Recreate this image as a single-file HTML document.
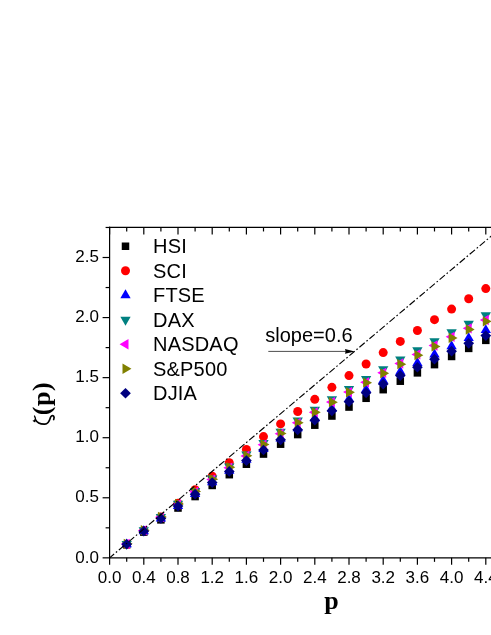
<!DOCTYPE html>
<html><head><meta charset="utf-8"><title>chart</title>
<style>html,body{margin:0;padding:0;background:#fff;overflow:hidden}svg{display:block;will-change:transform}</style>
</head><body>
<svg width="491" height="635" viewBox="0 0 491 635">
<rect width="491" height="635" fill="#fff"/>
<g>
<rect x="122.95" y="541.02" width="7.50" height="7.50" fill="#000000"/>
<rect x="140.05" y="528.37" width="7.50" height="7.50" fill="#000000"/>
<rect x="157.15" y="516.13" width="7.50" height="7.50" fill="#000000"/>
<rect x="174.25" y="504.29" width="7.50" height="7.50" fill="#000000"/>
<rect x="191.35" y="492.82" width="7.50" height="7.50" fill="#000000"/>
<rect x="208.45" y="481.71" width="7.50" height="7.50" fill="#000000"/>
<rect x="225.55" y="470.94" width="7.50" height="7.50" fill="#000000"/>
<rect x="242.65" y="460.48" width="7.50" height="7.50" fill="#000000"/>
<rect x="259.75" y="450.32" width="7.50" height="7.50" fill="#000000"/>
<rect x="276.85" y="440.44" width="7.50" height="7.50" fill="#000000"/>
<rect x="293.95" y="430.82" width="7.50" height="7.50" fill="#000000"/>
<rect x="311.05" y="421.44" width="7.50" height="7.50" fill="#000000"/>
<rect x="328.15" y="412.28" width="7.50" height="7.50" fill="#000000"/>
<rect x="345.25" y="403.32" width="7.50" height="7.50" fill="#000000"/>
<rect x="362.35" y="394.54" width="7.50" height="7.50" fill="#000000"/>
<rect x="379.45" y="385.93" width="7.50" height="7.50" fill="#000000"/>
<rect x="396.55" y="377.46" width="7.50" height="7.50" fill="#000000"/>
<rect x="413.65" y="369.12" width="7.50" height="7.50" fill="#000000"/>
<rect x="430.75" y="360.88" width="7.50" height="7.50" fill="#000000"/>
<rect x="447.85" y="352.73" width="7.50" height="7.50" fill="#000000"/>
<rect x="464.95" y="344.65" width="7.50" height="7.50" fill="#000000"/>
<rect x="482.05" y="336.61" width="7.50" height="7.50" fill="#000000"/>
<rect x="499.15" y="328.61" width="7.50" height="7.50" fill="#000000"/>
</g>
<g>
<circle cx="126.70" cy="544.27" r="4.50" fill="#ff0000"/>
<circle cx="143.80" cy="530.64" r="4.50" fill="#ff0000"/>
<circle cx="160.90" cy="516.99" r="4.50" fill="#ff0000"/>
<circle cx="178.00" cy="503.35" r="4.50" fill="#ff0000"/>
<circle cx="195.10" cy="489.74" r="4.50" fill="#ff0000"/>
<circle cx="212.20" cy="476.19" r="4.50" fill="#ff0000"/>
<circle cx="229.30" cy="462.76" r="4.50" fill="#ff0000"/>
<circle cx="246.40" cy="449.52" r="4.50" fill="#ff0000"/>
<circle cx="263.50" cy="436.57" r="4.50" fill="#ff0000"/>
<circle cx="280.60" cy="423.92" r="4.50" fill="#ff0000"/>
<circle cx="297.70" cy="411.51" r="4.50" fill="#ff0000"/>
<circle cx="314.80" cy="399.32" r="4.50" fill="#ff0000"/>
<circle cx="331.90" cy="387.34" r="4.50" fill="#ff0000"/>
<circle cx="349.00" cy="375.57" r="4.50" fill="#ff0000"/>
<circle cx="366.10" cy="363.99" r="4.50" fill="#ff0000"/>
<circle cx="383.20" cy="352.61" r="4.50" fill="#ff0000"/>
<circle cx="400.30" cy="341.43" r="4.50" fill="#ff0000"/>
<circle cx="417.40" cy="330.45" r="4.50" fill="#ff0000"/>
<circle cx="434.50" cy="319.67" r="4.50" fill="#ff0000"/>
<circle cx="451.60" cy="309.09" r="4.50" fill="#ff0000"/>
<circle cx="468.70" cy="298.71" r="4.50" fill="#ff0000"/>
<circle cx="485.80" cy="288.56" r="4.50" fill="#ff0000"/>
<circle cx="502.90" cy="278.63" r="4.50" fill="#ff0000"/>
</g>
<g>
<polygon points="126.70,538.41 121.55,547.33 131.85,547.33" fill="#0000ff"/>
<polygon points="143.80,525.30 138.65,534.22 148.95,534.22" fill="#0000ff"/>
<polygon points="160.90,512.54 155.75,521.46 166.05,521.46" fill="#0000ff"/>
<polygon points="178.00,500.14 172.85,509.06 183.15,509.06" fill="#0000ff"/>
<polygon points="195.10,488.08 189.95,497.00 200.25,497.00" fill="#0000ff"/>
<polygon points="212.20,476.35 207.05,485.27 217.35,485.27" fill="#0000ff"/>
<polygon points="229.30,464.94 224.15,473.86 234.45,473.86" fill="#0000ff"/>
<polygon points="246.40,453.83 241.25,462.75 251.55,462.75" fill="#0000ff"/>
<polygon points="263.50,443.02 258.35,451.94 268.65,451.94" fill="#0000ff"/>
<polygon points="280.60,432.49 275.45,441.41 285.75,441.41" fill="#0000ff"/>
<polygon points="297.70,422.23 292.55,431.15 302.85,431.15" fill="#0000ff"/>
<polygon points="314.80,412.24 309.65,421.16 319.95,421.16" fill="#0000ff"/>
<polygon points="331.90,402.49 326.75,411.41 337.05,411.41" fill="#0000ff"/>
<polygon points="349.00,392.98 343.85,401.90 354.15,401.90" fill="#0000ff"/>
<polygon points="366.10,383.70 360.95,392.62 371.25,392.62" fill="#0000ff"/>
<polygon points="383.20,374.64 378.05,383.56 388.35,383.56" fill="#0000ff"/>
<polygon points="400.30,365.78 395.15,374.70 405.45,374.70" fill="#0000ff"/>
<polygon points="417.40,357.11 412.25,366.03 422.55,366.03" fill="#0000ff"/>
<polygon points="434.50,348.62 429.35,357.54 439.65,357.54" fill="#0000ff"/>
<polygon points="451.60,340.30 446.45,349.22 456.75,349.22" fill="#0000ff"/>
<polygon points="468.70,332.14 463.55,341.06 473.85,341.06" fill="#0000ff"/>
<polygon points="485.80,324.13 480.65,333.05 490.95,333.05" fill="#0000ff"/>
<polygon points="502.90,316.26 497.75,325.18 508.05,325.18" fill="#0000ff"/>
</g>
<g>
<polygon points="126.70,549.82 121.55,540.90 131.85,540.90" fill="#008080"/>
<polygon points="143.80,536.16 138.65,527.24 148.95,527.24" fill="#008080"/>
<polygon points="160.90,522.80 155.75,513.88 166.05,513.88" fill="#008080"/>
<polygon points="178.00,509.75 172.85,500.83 183.15,500.83" fill="#008080"/>
<polygon points="195.10,497.00 189.95,488.08 200.25,488.08" fill="#008080"/>
<polygon points="212.20,484.54 207.05,475.62 217.35,475.62" fill="#008080"/>
<polygon points="229.30,472.37 224.15,463.45 234.45,463.45" fill="#008080"/>
<polygon points="246.40,460.49 241.25,451.57 251.55,451.57" fill="#008080"/>
<polygon points="263.50,448.88 258.35,439.96 268.65,439.96" fill="#008080"/>
<polygon points="280.60,437.55 275.45,428.63 285.75,428.63" fill="#008080"/>
<polygon points="297.70,426.49 292.55,417.57 302.85,417.57" fill="#008080"/>
<polygon points="314.80,415.70 309.65,406.78 319.95,406.78" fill="#008080"/>
<polygon points="331.90,405.16 326.75,396.24 337.05,396.24" fill="#008080"/>
<polygon points="349.00,394.88 343.85,385.96 354.15,385.96" fill="#008080"/>
<polygon points="366.10,384.84 360.95,375.92 371.25,375.92" fill="#008080"/>
<polygon points="383.20,375.06 378.05,366.14 388.35,366.14" fill="#008080"/>
<polygon points="400.30,365.51 395.15,356.59 405.45,356.59" fill="#008080"/>
<polygon points="417.40,356.20 412.25,347.28 422.55,347.28" fill="#008080"/>
<polygon points="434.50,347.12 429.35,338.20 439.65,338.20" fill="#008080"/>
<polygon points="451.60,338.26 446.45,329.34 456.75,329.34" fill="#008080"/>
<polygon points="468.70,329.63 463.55,320.71 473.85,320.71" fill="#008080"/>
<polygon points="485.80,321.21 480.65,312.29 490.95,312.29" fill="#008080"/>
<polygon points="502.90,313.00 497.75,304.08 508.05,304.08" fill="#008080"/>
</g>
<g>
<polygon points="120.75,543.95 129.67,538.80 129.67,549.10" fill="#ff00ff"/>
<polygon points="137.85,530.40 146.77,525.25 146.77,535.55" fill="#ff00ff"/>
<polygon points="154.95,517.20 163.87,512.05 163.87,522.35" fill="#ff00ff"/>
<polygon points="172.05,504.33 180.97,499.18 180.97,509.48" fill="#ff00ff"/>
<polygon points="189.15,491.78 198.07,486.63 198.07,496.93" fill="#ff00ff"/>
<polygon points="206.25,479.55 215.17,474.40 215.17,484.70" fill="#ff00ff"/>
<polygon points="223.35,467.63 232.27,462.48 232.27,472.78" fill="#ff00ff"/>
<polygon points="240.45,456.01 249.37,450.86 249.37,461.16" fill="#ff00ff"/>
<polygon points="257.55,444.68 266.47,439.53 266.47,449.83" fill="#ff00ff"/>
<polygon points="274.65,433.63 283.57,428.48 283.57,438.78" fill="#ff00ff"/>
<polygon points="291.75,422.86 300.67,417.71 300.67,428.01" fill="#ff00ff"/>
<polygon points="308.85,412.35 317.77,407.20 317.77,417.50" fill="#ff00ff"/>
<polygon points="325.95,402.10 334.87,396.95 334.87,407.25" fill="#ff00ff"/>
<polygon points="343.05,392.10 351.97,386.95 351.97,397.25" fill="#ff00ff"/>
<polygon points="360.15,382.34 369.07,377.19 369.07,387.49" fill="#ff00ff"/>
<polygon points="377.25,372.80 386.17,367.65 386.17,377.95" fill="#ff00ff"/>
<polygon points="394.35,363.49 403.27,358.34 403.27,368.64" fill="#ff00ff"/>
<polygon points="411.45,354.40 420.37,349.25 420.37,359.55" fill="#ff00ff"/>
<polygon points="428.55,345.51 437.47,340.36 437.47,350.66" fill="#ff00ff"/>
<polygon points="445.65,336.82 454.57,331.67 454.57,341.97" fill="#ff00ff"/>
<polygon points="462.75,328.31 471.67,323.16 471.67,333.46" fill="#ff00ff"/>
<polygon points="479.85,319.99 488.77,314.84 488.77,325.14" fill="#ff00ff"/>
<polygon points="496.95,311.83 505.87,306.68 505.87,316.98" fill="#ff00ff"/>
</g>
<g>
<polygon points="132.65,543.82 123.73,538.67 123.73,548.97" fill="#808000"/>
<polygon points="149.75,530.17 140.83,525.02 140.83,535.32" fill="#808000"/>
<polygon points="166.85,516.89 157.93,511.74 157.93,522.04" fill="#808000"/>
<polygon points="183.95,503.97 175.03,498.82 175.03,509.12" fill="#808000"/>
<polygon points="201.05,491.40 192.13,486.25 192.13,496.55" fill="#808000"/>
<polygon points="218.15,479.17 209.23,474.02 209.23,484.32" fill="#808000"/>
<polygon points="235.25,467.27 226.33,462.12 226.33,472.42" fill="#808000"/>
<polygon points="252.35,455.69 243.43,450.54 243.43,460.84" fill="#808000"/>
<polygon points="269.45,444.42 260.53,439.27 260.53,449.57" fill="#808000"/>
<polygon points="286.55,433.44 277.63,428.29 277.63,438.59" fill="#808000"/>
<polygon points="303.65,422.76 294.73,417.61 294.73,427.91" fill="#808000"/>
<polygon points="320.75,412.35 311.83,407.20 311.83,417.50" fill="#808000"/>
<polygon points="337.85,402.21 328.93,397.06 328.93,407.36" fill="#808000"/>
<polygon points="354.95,392.33 346.03,387.18 346.03,397.48" fill="#808000"/>
<polygon points="372.05,382.70 363.13,377.55 363.13,387.85" fill="#808000"/>
<polygon points="389.15,373.30 380.23,368.15 380.23,378.45" fill="#808000"/>
<polygon points="406.25,364.13 397.33,358.98 397.33,369.28" fill="#808000"/>
<polygon points="423.35,355.18 414.43,350.03 414.43,360.33" fill="#808000"/>
<polygon points="440.45,346.43 431.53,341.28 431.53,351.58" fill="#808000"/>
<polygon points="457.55,337.88 448.63,332.73 448.63,343.03" fill="#808000"/>
<polygon points="474.65,329.51 465.73,324.36 465.73,334.66" fill="#808000"/>
<polygon points="491.75,321.32 482.83,316.17 482.83,326.47" fill="#808000"/>
<polygon points="508.85,313.29 499.93,308.14 499.93,318.44" fill="#808000"/>
</g>
<g>
<polygon points="126.70,538.92 132.05,544.27 126.70,549.62 121.35,544.27" fill="#000080"/>
<polygon points="143.80,525.78 149.15,531.13 143.80,536.48 138.45,531.13" fill="#000080"/>
<polygon points="160.90,513.06 166.25,518.41 160.90,523.76 155.55,518.41" fill="#000080"/>
<polygon points="178.00,500.74 183.35,506.09 178.00,511.44 172.65,506.09" fill="#000080"/>
<polygon points="195.10,488.82 200.45,494.17 195.10,499.52 189.75,494.17" fill="#000080"/>
<polygon points="212.20,477.26 217.55,482.61 212.20,487.96 206.85,482.61" fill="#000080"/>
<polygon points="229.30,466.06 234.65,471.41 229.30,476.76 223.95,471.41" fill="#000080"/>
<polygon points="246.40,455.20 251.75,460.55 246.40,465.90 241.05,460.55" fill="#000080"/>
<polygon points="263.50,444.67 268.85,450.02 263.50,455.37 258.15,450.02" fill="#000080"/>
<polygon points="280.60,434.45 285.95,439.80 280.60,445.15 275.25,439.80" fill="#000080"/>
<polygon points="297.70,424.52 303.05,429.87 297.70,435.22 292.35,429.87" fill="#000080"/>
<polygon points="314.80,414.87 320.15,420.22 314.80,425.57 309.45,420.22" fill="#000080"/>
<polygon points="331.90,405.48 337.25,410.83 331.90,416.18 326.55,410.83" fill="#000080"/>
<polygon points="349.00,396.34 354.35,401.69 349.00,407.04 343.65,401.69" fill="#000080"/>
<polygon points="366.10,387.43 371.45,392.78 366.10,398.13 360.75,392.78" fill="#000080"/>
<polygon points="383.20,378.73 388.55,384.08 383.20,389.43 377.85,384.08" fill="#000080"/>
<polygon points="400.30,370.24 405.65,375.59 400.30,380.94 394.95,375.59" fill="#000080"/>
<polygon points="417.40,361.92 422.75,367.27 417.40,372.62 412.05,367.27" fill="#000080"/>
<polygon points="434.50,353.78 439.85,359.13 434.50,364.48 429.15,359.13" fill="#000080"/>
<polygon points="451.60,345.79 456.95,351.14 451.60,356.49 446.25,351.14" fill="#000080"/>
<polygon points="468.70,337.94 474.05,343.29 468.70,348.64 463.35,343.29" fill="#000080"/>
<polygon points="485.80,330.21 491.15,335.56 485.80,340.91 480.45,335.56" fill="#000080"/>
<polygon points="502.90,322.58 508.25,327.93 502.90,333.28 497.55,327.93" fill="#000080"/>
</g>
<line x1="109.60" y1="557.85" x2="500.00" y2="228.71" stroke="#000" stroke-width="1.15" stroke-dasharray="6.9 2.3 1.6 2.31" stroke-dashoffset="0.98"/>
<g stroke="#000" stroke-width="1.2" fill="none">
<line x1="109.60" y1="226.87" x2="109.60" y2="558.45"/>
<line x1="109.00" y1="557.85" x2="496" y2="557.85"/>
<line x1="109.00" y1="227.47" x2="496" y2="227.47"/>
<line x1="109.60" y1="557.85" x2="109.60" y2="564.85"/>
<line x1="109.60" y1="227.47" x2="109.60" y2="234.47"/>
<line x1="126.70" y1="557.85" x2="126.70" y2="561.85"/>
<line x1="126.70" y1="227.47" x2="126.70" y2="231.47"/>
<line x1="143.80" y1="557.85" x2="143.80" y2="564.85"/>
<line x1="143.80" y1="227.47" x2="143.80" y2="234.47"/>
<line x1="160.90" y1="557.85" x2="160.90" y2="561.85"/>
<line x1="160.90" y1="227.47" x2="160.90" y2="231.47"/>
<line x1="178.00" y1="557.85" x2="178.00" y2="564.85"/>
<line x1="178.00" y1="227.47" x2="178.00" y2="234.47"/>
<line x1="195.10" y1="557.85" x2="195.10" y2="561.85"/>
<line x1="195.10" y1="227.47" x2="195.10" y2="231.47"/>
<line x1="212.20" y1="557.85" x2="212.20" y2="564.85"/>
<line x1="212.20" y1="227.47" x2="212.20" y2="234.47"/>
<line x1="229.30" y1="557.85" x2="229.30" y2="561.85"/>
<line x1="229.30" y1="227.47" x2="229.30" y2="231.47"/>
<line x1="246.40" y1="557.85" x2="246.40" y2="564.85"/>
<line x1="246.40" y1="227.47" x2="246.40" y2="234.47"/>
<line x1="263.50" y1="557.85" x2="263.50" y2="561.85"/>
<line x1="263.50" y1="227.47" x2="263.50" y2="231.47"/>
<line x1="280.60" y1="557.85" x2="280.60" y2="564.85"/>
<line x1="280.60" y1="227.47" x2="280.60" y2="234.47"/>
<line x1="297.70" y1="557.85" x2="297.70" y2="561.85"/>
<line x1="297.70" y1="227.47" x2="297.70" y2="231.47"/>
<line x1="314.80" y1="557.85" x2="314.80" y2="564.85"/>
<line x1="314.80" y1="227.47" x2="314.80" y2="234.47"/>
<line x1="331.90" y1="557.85" x2="331.90" y2="561.85"/>
<line x1="331.90" y1="227.47" x2="331.90" y2="231.47"/>
<line x1="349.00" y1="557.85" x2="349.00" y2="564.85"/>
<line x1="349.00" y1="227.47" x2="349.00" y2="234.47"/>
<line x1="366.10" y1="557.85" x2="366.10" y2="561.85"/>
<line x1="366.10" y1="227.47" x2="366.10" y2="231.47"/>
<line x1="383.20" y1="557.85" x2="383.20" y2="564.85"/>
<line x1="383.20" y1="227.47" x2="383.20" y2="234.47"/>
<line x1="400.30" y1="557.85" x2="400.30" y2="561.85"/>
<line x1="400.30" y1="227.47" x2="400.30" y2="231.47"/>
<line x1="417.40" y1="557.85" x2="417.40" y2="564.85"/>
<line x1="417.40" y1="227.47" x2="417.40" y2="234.47"/>
<line x1="434.50" y1="557.85" x2="434.50" y2="561.85"/>
<line x1="434.50" y1="227.47" x2="434.50" y2="231.47"/>
<line x1="451.60" y1="557.85" x2="451.60" y2="564.85"/>
<line x1="451.60" y1="227.47" x2="451.60" y2="234.47"/>
<line x1="468.70" y1="557.85" x2="468.70" y2="561.85"/>
<line x1="468.70" y1="227.47" x2="468.70" y2="231.47"/>
<line x1="485.80" y1="557.85" x2="485.80" y2="564.85"/>
<line x1="485.80" y1="227.47" x2="485.80" y2="234.47"/>
<line x1="502.90" y1="557.85" x2="502.90" y2="561.85"/>
<line x1="502.90" y1="227.47" x2="502.90" y2="231.47"/>
<line x1="102.60" y1="557.85" x2="109.60" y2="557.85"/>
<line x1="105.60" y1="527.82" x2="109.60" y2="527.82"/>
<line x1="102.60" y1="497.78" x2="109.60" y2="497.78"/>
<line x1="105.60" y1="467.75" x2="109.60" y2="467.75"/>
<line x1="102.60" y1="437.71" x2="109.60" y2="437.71"/>
<line x1="105.60" y1="407.68" x2="109.60" y2="407.68"/>
<line x1="102.60" y1="377.64" x2="109.60" y2="377.64"/>
<line x1="105.60" y1="347.61" x2="109.60" y2="347.61"/>
<line x1="102.60" y1="317.57" x2="109.60" y2="317.57"/>
<line x1="105.60" y1="287.54" x2="109.60" y2="287.54"/>
<line x1="102.60" y1="257.50" x2="109.60" y2="257.50"/>
<line x1="105.60" y1="227.47" x2="109.60" y2="227.47"/>
</g>
<g font-family="'Liberation Sans', sans-serif" font-size="17px" fill="#000">
<text x="109.60" y="582.6" text-anchor="middle">0.0</text>
<text x="143.80" y="582.6" text-anchor="middle">0.4</text>
<text x="178.00" y="582.6" text-anchor="middle">0.8</text>
<text x="212.20" y="582.6" text-anchor="middle">1.2</text>
<text x="246.40" y="582.6" text-anchor="middle">1.6</text>
<text x="280.60" y="582.6" text-anchor="middle">2.0</text>
<text x="314.80" y="582.6" text-anchor="middle">2.4</text>
<text x="349.00" y="582.6" text-anchor="middle">2.8</text>
<text x="383.20" y="582.6" text-anchor="middle">3.2</text>
<text x="417.40" y="582.6" text-anchor="middle">3.6</text>
<text x="451.60" y="582.6" text-anchor="middle">4.0</text>
<text x="485.80" y="582.6" text-anchor="middle">4.4</text>
<text x="98.9" y="562.50" text-anchor="end">0.0</text>
<text x="98.9" y="502.43" text-anchor="end">0.5</text>
<text x="98.9" y="442.36" text-anchor="end">1.0</text>
<text x="98.9" y="382.29" text-anchor="end">1.5</text>
<text x="98.9" y="322.22" text-anchor="end">2.0</text>
<text x="98.9" y="262.15" text-anchor="end">2.5</text>
</g>
<g font-family="'Liberation Sans', sans-serif" font-size="20px" fill="#000">
<rect x="121.75" y="242.50" width="7.50" height="7.50" fill="#000000"/>
<text x="153" y="253.15" letter-spacing="0.2">HSI</text>
<circle cx="125.50" cy="270.75" r="4.50" fill="#ff0000"/>
<text x="153" y="277.65" letter-spacing="0.2">SCI</text>
<polygon points="125.50,289.30 120.35,298.22 130.65,298.22" fill="#0000ff"/>
<text x="153" y="302.15" letter-spacing="0.2">FTSE</text>
<polygon points="125.50,325.70 120.35,316.78 130.65,316.78" fill="#008080"/>
<text x="153" y="326.65" letter-spacing="0.2">DAX</text>
<polygon points="119.55,344.25 128.47,339.10 128.47,349.40" fill="#ff00ff"/>
<text x="153" y="351.15" letter-spacing="0.2">NASDAQ</text>
<polygon points="131.45,368.75 122.53,363.60 122.53,373.90" fill="#808000"/>
<text x="153" y="375.65" letter-spacing="0.2">S&amp;P500</text>
<polygon points="125.50,387.90 130.85,393.25 125.50,398.60 120.15,393.25" fill="#000080"/>
<text x="153" y="400.15" letter-spacing="0.2">DJIA</text>
<text x="265.3" y="342.0">slope=0.6</text>
</g>
<line x1="268.3" y1="351.4" x2="348" y2="351.4" stroke="#000" stroke-width="0.7"/>
<polygon points="354.8,351.4 345.0,349.0 345.6,351.4 345.0,353.8" fill="#000"/>
<text x="331.5" y="609.2" text-anchor="middle" font-family="'Liberation Serif', serif" font-weight="bold" font-size="26px">p</text>
<text transform="translate(49.5,415.2) rotate(-90)" font-family="'Liberation Serif', serif" font-size="26px" font-weight="bold" letter-spacing="0.5">(p)</text>
<path d="M34.5,416.0 C35.7,417.6 35.7,419.6 34.6,421.3 M33.3,420.8 L34.9,421.6" stroke="#000" stroke-width="1.25" fill="none" stroke-linecap="round"/>
<path d="M35.3,419.4 C37,422.6 41,424.4 44.9,424.2 C48.6,424.0 49.6,420.2 50.4,417.6 C51.0,415.6 52.6,414.9 53.7,416.3 C54.3,417.3 54.1,418.6 53.7,419.5" stroke="#000" stroke-width="1.7" fill="none" stroke-linecap="round"/>
</svg>
</body></html>
